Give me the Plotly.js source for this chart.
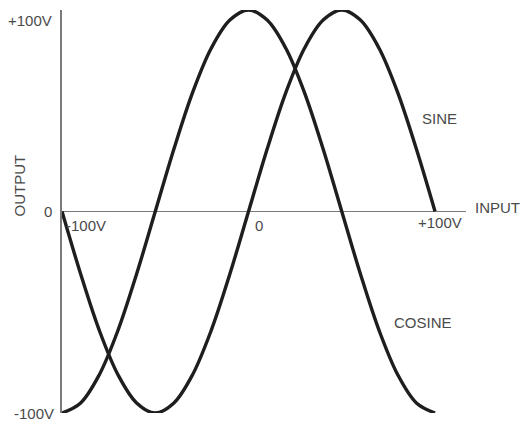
<!DOCTYPE html>
<html>
<head>
<meta charset="utf-8">
<script src="https://cdn.plot.ly/plotly-3.0.1.min.js"></script>
<style>html,body{margin:0;padding:0;background:#fff;}#chart{width:521px;height:424px;}</style>
</head>
<body>
<div id="chart"></div>
<script>
// Input voltage (V)
const inputV = [-100,-90,-80,-70,-60,-50,-40,-30,-20,-10,0,10,20,30,40,50,60,70,80,90,100];
// Output (V)
const sineOut = [0,-31,-59,-81,-95,-100,-95,-81,-59,-31,0,31,59,81,95,100,95,81,59,31,0];
const cosineOut = [-100,-95,-81,-59,-31,0,31,59,81,95,100,95,81,59,31,0,-31,-59,-81,-95,-100];
// Axis tick labels
const yTickVals = [100, 0, -100];
const yTickText = ['+100V', '0', '-100V'];
const xTickVals = [-100, 0, 100];
const xTickText = ['-100V', '0', '+100V'];
const seriesNames = ['SINE', 'COSINE'];

const lineStyle = {color:'#1e1e1e', width:3.4, shape:'spline', smoothing:1.0};
const traces = [
  {x: inputV, y: sineOut, mode:'lines', name: seriesNames[0], line: lineStyle, hoverinfo:'skip'},
  {x: inputV, y: cosineOut, mode:'lines', name: seriesNames[1], line: lineStyle, hoverinfo:'skip'}
];

const txtFont = {family:'Liberation Sans, Arial, sans-serif', size:15, color:'#4a4a4a'};
const annotations = [];
// y tick labels (left of vertical axis)
const yShift = [-10, 0, 0];
const yX = [-8, -8, -6];
yTickVals.forEach((v,i)=>{
  annotations.push({x:-100, y:v, xref:'x', yref:'y', text:yTickText[i], showarrow:false,
    xanchor:'right', yanchor:'middle', xshift:yX[i], yshift:yShift[i], font:txtFont});
});
// x tick labels (below horizontal axis)
const xOff = [[2,-14],[4,-14],[5,-11]];
xTickVals.forEach((v,i)=>{
  annotations.push({x:v, y:0, xref:'x', yref:'y', text:xTickText[i], showarrow:false,
    xanchor: i===2 ? 'center' : 'left', yanchor:'middle', xshift:xOff[i][0], yshift:xOff[i][1], font:txtFont});
});
annotations.push({x:1.0, y:0, xref:'paper', yref:'y', text:'INPUT', showarrow:false,
  xanchor:'left', yanchor:'middle', xshift:7, yshift:4, font:txtFont});
annotations.push({x:-100, y:0, xref:'x', yref:'y', text:'OUTPUT', showarrow:false, textangle:-90,
  xanchor:'center', yanchor:'middle', xshift:-43, yshift:26, font:{...txtFont, size:15}});
// series labels
annotations.push({x:92, y:46, xref:'x', yref:'y', text:seriesNames[0], showarrow:false,
  xanchor:'left', yanchor:'middle', font:txtFont});
annotations.push({x:77, y:-55, xref:'x', yref:'y', text:seriesNames[1], showarrow:false,
  xanchor:'left', yanchor:'middle', font:txtFont});

const layout = {
  width:521, height:424,
  margin:{l:62, r:55, t:10, b:11},
  paper_bgcolor:'#fff', plot_bgcolor:'#fff',
  showlegend:false,
  xaxis:{range:[-100, 116.6], showgrid:false, zeroline:false, showline:false,
    showticklabels:false, ticks:''},
  yaxis:{range:[-100, 100], showgrid:false, zeroline:true, zerolinecolor:'#7a7a7a', zerolinewidth:1.6,
    showline:true, linecolor:'#7a7a7a', linewidth:1.8, mirror:false,
    showticklabels:false, ticks:''},
  annotations: annotations
};
Plotly.newPlot('chart', traces, layout, {staticPlot:true, displayModeBar:false});
</script>
</body>
</html>
